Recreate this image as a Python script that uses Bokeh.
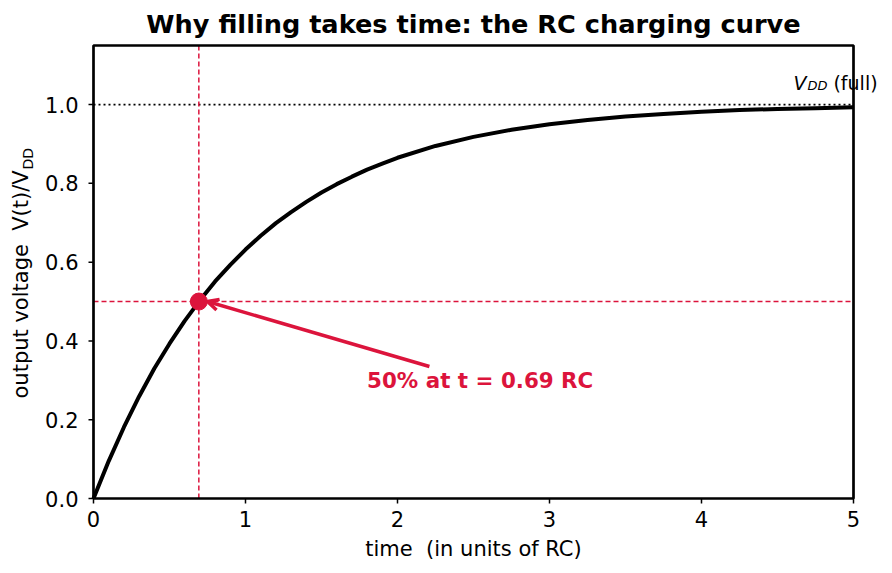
import math

from bokeh.core.properties import value
from bokeh.embed import file_html
from bokeh.models import Arrow, OpenHead, Range1d
from bokeh.plotting import figure
from bokeh.resources import INLINE

# RC charging curve, V(t)/V_DD sampled along time in units of RC
t_rc = [0.0, 0.1, 0.2, 0.3, 0.4, 0.5, 0.6, 0.7, 0.8, 0.9, 1.0,
        1.1, 1.2, 1.3, 1.4, 1.5, 1.6, 1.7, 1.8, 1.9, 2.0,
        2.25, 2.5, 2.75, 3.0, 3.25, 3.5, 3.75, 4.0, 4.25, 4.5, 4.75, 5.0]
v_ratio = [0.0, 0.095, 0.181, 0.259, 0.330, 0.393, 0.451, 0.503, 0.551, 0.593, 0.632,
           0.667, 0.699, 0.727, 0.753, 0.777, 0.798, 0.817, 0.835, 0.850, 0.865,
           0.895, 0.918, 0.936, 0.950, 0.961, 0.970, 0.976, 0.982, 0.986, 0.989, 0.991, 0.993]

# half-charge point and full-scale level
t_half = [0.693]
v_half = [0.5]
v_full = 1.0

x_ticks = [0, 1, 2, 3, 4, 5]
x_tick_labels = ["0", "1", "2", "3", "4", "5"]
y_ticks = [0.0, 0.2, 0.4, 0.6, 0.8, 1.0]
y_tick_labels = ["0.0", "0.2", "0.4", "0.6", "0.8", "1.0"]

X_LO, X_HI = 0.0, 5.0
Y_LO, Y_HI = 0.0, 1.15

CRIMSON = "#DC143C"
FONT = "DejaVu Sans"
NBSP = "\u00a0"

# canvas and plot-box geometry (pixels)
W, H = 892, 573
BOX_L, BOX_R, BOX_T, BOX_B = 93, 853, 45, 498
TICK_PX = 5
kx = (BOX_R - BOX_L) / (X_HI - X_LO)
ky = (BOX_B - BOX_T) / (Y_HI - Y_LO)

p = figure(
    width=W, height=H,
    x_range=Range1d(X_LO - BOX_L / kx, X_HI + (W - BOX_R) / kx),
    y_range=Range1d(Y_LO - (H - BOX_B) / ky, Y_HI + BOX_T / ky),
    x_axis_location=None, y_axis_location=None,
    min_border=0, output_backend="svg", toolbar_location=None,
)
p.outline_line_color = None
p.grid.visible = False
p.background_fill_color = "white"
p.border_fill_color = "white"


def txt(x, y, text, size, dx=0, dy=0, align="left", baseline="middle",
        style="normal", color="black", angle=0.0):
    p.text(x=x, y=y, text=text, x_offset=dx, y_offset=dy, angle=angle,
           text_font=value(FONT), text_font_size=value(f"{size}px"),
           text_font_style=style, text_color=color,
           text_align=align, text_baseline=baseline)


# reference lines
p.segment(x0=[X_LO], y0=[v_full], x1=[X_HI], y1=[v_full],
          line_color="black", line_width=1.6, line_dash="2 3")
p.segment(x0=[X_LO], y0=v_half, x1=[X_HI], y1=v_half,
          line_color=CRIMSON, line_width=1.5, line_dash="5 3")
p.segment(x0=t_half, y0=[Y_LO], x1=t_half, y1=[Y_HI],
          line_color=CRIMSON, line_width=1.5, line_dash="5 3")

# charging curve
p.line(t_rc, v_ratio, line_color="black", line_width=4)

# half-charge marker
p.scatter(t_half, v_half, size=17, fill_color=CRIMSON, line_color=CRIMSON)

# annotation arrow and text
p.add_layout(Arrow(
    end=OpenHead(size=11, line_color=CRIMSON, line_width=3.5),
    x_start=2.21, y_start=0.335, x_end=0.75, y_end=0.5,
    line_color=CRIMSON, line_width=3.5,
))
txt([1.8], [0.28], ["50% at t = 0.69 RC"], 21.4, dy=-8, style="bold", color=CRIMSON)

# V_DD (full) tag
txt([4.605], [1.04], ["V"], 19, dy=-6, style="italic")
txt([4.605], [1.04], ["DD"], 13, dx=14, dy=-3, style="italic")
txt([4.605], [1.04], ["(full)"], 19, dx=40, dy=-6)

# plot box
p.quad(left=[X_LO], right=[X_HI], bottom=[Y_LO], top=[Y_HI],
       fill_color=None, line_color="black", line_width=2.7)

# ticks and tick labels
p.segment(x0=x_ticks, y0=[Y_LO] * len(x_ticks), x1=x_ticks,
          y1=[Y_LO - TICK_PX / ky] * len(x_ticks), line_color="black", line_width=1.5)
p.segment(x0=[X_LO] * len(y_ticks), y0=y_ticks, x1=[X_LO - TICK_PX / kx] * len(y_ticks),
          y1=y_ticks, line_color="black", line_width=1.5)
txt(x_ticks, [Y_LO] * len(x_ticks), x_tick_labels, 21, dy=20, align="center")
txt([X_LO] * len(y_ticks), y_ticks, y_tick_labels, 21, dx=-15, align="right")

# axis labels
txt([(X_LO + X_HI) / 2], [Y_LO], ["time " + NBSP + "(in units of RC)"], 21, dy=50, align="center")
txt([X_LO], [Y_LO], ["output voltage " + NBSP + "V(t)/V"], 21, dx=20.5 - BOX_L, dy=-100,
    angle=math.pi / 2)
txt([X_LO], [Y_LO], ["DD"], 14, dx=27 - BOX_L, dy=-329, angle=math.pi / 2)

# title
txt([(X_LO + X_HI) / 2], [Y_HI], ["Why filling takes time: the RC charging curve"], 25.6,
    dy=23 - BOX_T, align="center", style="bold")

open("out.html", "w").write(file_html(p, INLINE))
